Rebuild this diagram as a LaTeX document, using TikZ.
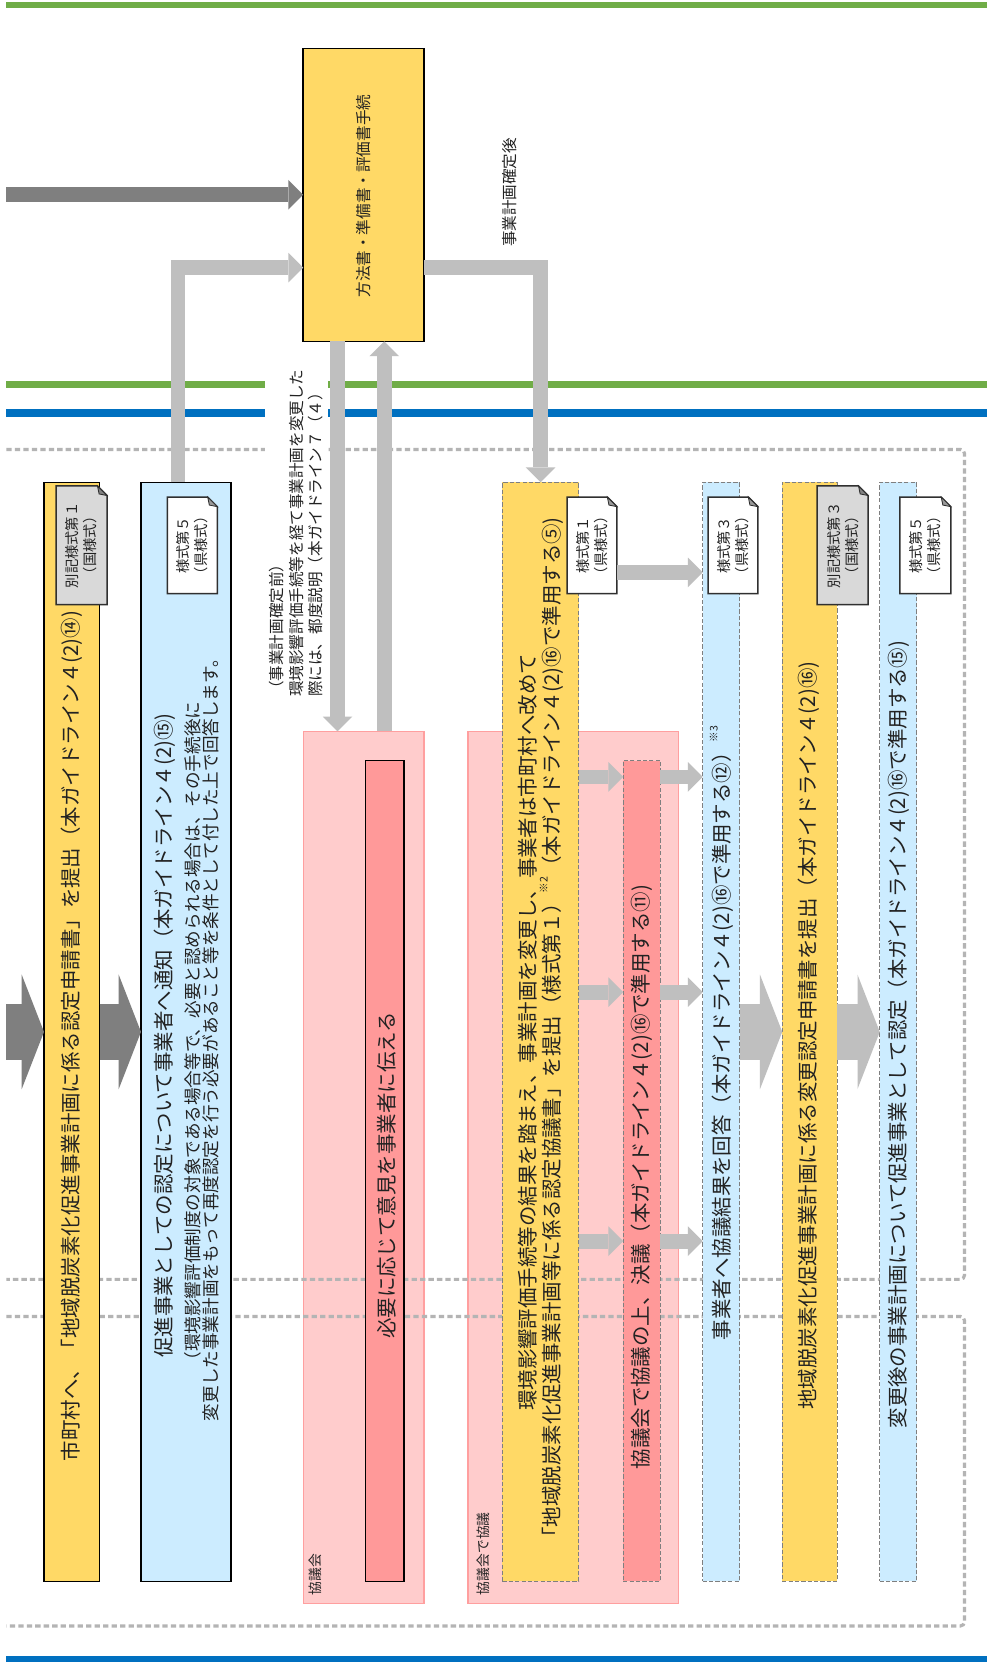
\documentclass[tikz,border=0pt]{standalone}
\usepackage{fontspec}
\newfontfamily\jp{Noto Sans CJK JP}
\usetikzlibrary{arrows.meta,calc}
\definecolor{cYel}{HTML}{FFD966}
\definecolor{cBlue}{HTML}{CCECFF}
\definecolor{cPink}{HTML}{FFCCCC}
\definecolor{cPinkLine}{HTML}{FF9F9F}
\definecolor{cRed}{HTML}{FF9999}
\definecolor{cGreen}{HTML}{70AD47}
\definecolor{cBlueLine}{HTML}{0070C0}
\definecolor{cDark}{HTML}{7F7F7F}
\definecolor{cLight}{HTML}{BFBFBF}
\definecolor{cDot}{HTML}{B4B4B4}
\definecolor{cDash}{HTML}{7F7F7F}
\definecolor{cTag}{HTML}{D9D9D9}
\definecolor{cTagLine}{HTML}{303030}
\definecolor{cText}{HTML}{222222}
\newcommand\notemark[1]{\raisebox{0.6em}{\fontsize{10}{10}\selectfont #1}}
\newcommand\notetag[6]{%
  \node[minimum width=#3, minimum height=#4, inner sep=0pt, outer sep=0pt] (#1) at (#2) {};
  \filldraw[tagline, fill=#5] (#1.south west) -- (#1.north west) -- ($(#1.north east)+(-9,0)$) -- ($(#1.north east)+(0,9)$) -- (#1.south east) -- cycle;
  \filldraw[tagline, line width=0.8pt, fill=#5!60!black] ($(#1.north east)+(-9,0)$) -- ($(#1.north east)+(-7.5,7.5)$) -- ($(#1.north east)+(0,9)$) -- cycle;
  \node[tagtxt] (#1t) at (#1.center) {#6};
}
\begin{document}
\begin{tikzpicture}[x=1pt,y=-1pt,
  solidbox/.style={draw=black, line width=1.3pt, inner sep=0pt, outer sep=0pt},
  dashbox/.style={draw=cDash, line width=1pt, dash pattern=on 4pt off 2pt, inner sep=0pt, outer sep=0pt},
  pinkbox/.style={fill=cPink, draw=cPinkLine, line width=1.2pt, inner sep=0pt, outer sep=0pt},
  maintxt/.style={rotate=90, inner sep=0pt, text=cText, font=\jp\fontsize{19.3}{23}\selectfont, align=center},
  smalltxt/.style={rotate=90, inner sep=0pt, text=cText, font=\jp\fontsize{14.7}{18.5}\selectfont, align=center},
  tagtxt/.style={rotate=90, inner sep=0pt, text=cText, font=\jp\fontsize{13.5}{17}\selectfont, align=center},
  areatxt/.style={rotate=90, inner sep=0pt, text=cText, font=\jp\fontsize{13}{15}\selectfont, anchor=west},
  tagline/.style={draw=cTagLine, line width=1.4pt, line join=miter},
  dotline/.style={draw=cDot, line width=3pt, dash pattern=on 5pt off 3pt},
  thinarr/.style={draw=#1, line width=14pt, -{Triangle[length=14pt,width=28pt,line width=0pt]}},
  bigarr/.style={draw=#1, line width=53pt, -{Triangle[length=21pt,width=108pt,line width=0pt]}}
]
\fill[white] (0,0) rectangle (931,1568);
\path[use as bounding box] (0,0) rectangle (931,1568);

% colour bands
\draw[cGreen, line width=6.3pt] (6,4.7) -- (931,4.7);
\draw[cGreen, line width=7pt] (6,362.5) -- (931,362.5);
\draw[cBlueLine, line width=7pt] (6,389.5) -- (931,389.5);
\draw[cBlueLine, line width=6pt] (6,1565) -- (931,1565);

% council areas
\node[pinkbox, minimum width=114, minimum height=823] (k1) at (343,1101.5) {};
\node[pinkbox, minimum width=198.4, minimum height=823] (k2) at (540.8,1101.5) {};
\node[areatxt] (k1l) at (297,1505) {協議会};
\node[areatxt] (k2l) at (456,1505) {協議会で協議};

% dotted frames
\draw[dotline, rounded corners=4pt] (6,424) -- (910,424) -- (910,1207) -- (6,1207);
\draw[dotline, rounded corners=4pt] (6,1242) -- (910,1242) -- (910,1534) -- (6,1534);

% boxes
\node[solidbox, fill=cYel, minimum width=114, minimum height=276.4] (hs) at (343,183.8) {};
\node[solidbox, fill=cYel, minimum width=52.5, minimum height=1037] (y1) at (67.75,973.5) {};
\node[solidbox, fill=cBlue, minimum width=85, minimum height=1037] (b2) at (175.5,973.5) {};
\node[solidbox, fill=cRed, minimum width=36, minimum height=774.5] (k1in) at (363,1104.75) {};
\node[dashbox, fill=cYel, minimum width=72, minimum height=1037] (y3) at (510,973.5) {};
\node[dashbox, fill=cRed, minimum width=35, minimum height=774.5] (r3) at (605.5,1104.75) {};
\node[dashbox, fill=cBlue, minimum width=35, minimum height=1037] (b3) at (680.5,973.5) {};
\node[dashbox, fill=cYel, minimum width=52, minimum height=1037] (y4) at (764,973.5) {};
\node[dashbox, fill=cBlue, minimum width=35, minimum height=1037] (b5) at (847.5,973.5) {};

% texts
\node[smalltxt] (hst) at (343,185) {方法書・準備書・評価書手続};
\node[smalltxt] (lab1) at (481,181.5) {事業計画確定後};
\node[maintxt] (y1t) at (68,977.5) {市町村へ、「地域脱炭素化促進事業計画に係る認定申請書」を提出（本ガイドライン４(2)⑭)};
\node[maintxt, font=\jp\fontsize{16.6}{17}\selectfont] (b2t) at (176,977) {{\fontsize{19.3}{23}\selectfont 促進事業としての認定について事業者へ通知（本ガイドライン４(2)⑮)}\\[7.5pt]（環境影響評価制度の対象である場合等で、必要と認められる場合は、その手続後に\\変更した事業計画をもって再度認定を行う必要があること等を条件として付した上で回答します。};
\node[maintxt] (k1t) at (365,1109) {必要に応じて意見を事業者に伝える};
\node[maintxt] (y3t) at (510.5,974) {環境影響評価手続等の結果を踏まえ、事業計画を変更し、事業者は市町村へ改めて\\「地域脱炭素化促進事業計画等に係る認定協議書」を提出（様式第１）\notemark{※2}（本ガイドライン４(2)⑯で準用する⑤)};
\node[maintxt] (r3t) at (605,1110.5) {協議会で協議の上、決議（本ガイドライン４(2)⑯で準用する⑪)};
\node[maintxt] (b3t) at (681,974.5) {事業者へ協議結果を回答（本ガイドライン４(2)⑯で準用する⑫）\notemark{※3}};
\node[maintxt] (y4t) at (763,977) {地域脱炭素化促進事業計画に係る変更認定申請書を提出（本ガイドライン４(2)⑯)};
\node[maintxt] (b5t) at (847.5,976) {変更後の事業計画について促進事業として認定（本ガイドライン４(2)⑯で準用する⑮)};

% form tags
\notetag{t1}{77,514.5}{48}{112}{cTag}{別記様式第１\\（国様式）}
\notetag{t2}{181.5,514.5}{47}{91}{white}{様式第５\\（県様式）}
\notetag{t3}{558.5,514.5}{47}{91}{white}{様式第１\\（県様式）}
\notetag{t4}{691.5,514.5}{47}{91}{white}{様式第３\\（県様式）}
\notetag{t5}{795,514.5}{48}{112}{cTag}{別記様式第３\\（国様式）}
\notetag{t6}{873,514.5}{48}{91}{white}{様式第５\\（県様式）}

% connectors
\coordinate (s0) at (6,183.8);
\draw[thinarr=cDark] (s0) -- (hs.west);
\draw[thinarr=cLight] ($(b2.north)+(-7.5,0)$) |- ($(hs.west)+(0,68.7)$);
\draw[thinarr=cLight] ($(hs.east)+(0,68.7)$) -| (y3.north);
\draw[thinarr=cLight] ($(hs.south)+(-24.5,0)$) -- ($(k1.north)+(-24.5,0)$);
\draw[thinarr=cLight] ($(k1.north)+(19.5,0)$) -- ($(hs.south)+(19.5,0)$);

\coordinate (s1) at (6,973.5);
\draw[bigarr=cDark] (s1) -- (y1.west);
\draw[bigarr=cDark] (y1.east) -- (b2.west);
\draw[bigarr=cLight] (b3.east) -- (y4.west);
\draw[bigarr=cLight] (y4.east) -- (b5.west);

\coordinate (h0) at (0,540);
\draw[thinarr=cLight] (t3.east |- h0) -- (b3.west |- h0);
\foreach \i/\yy in {1/733,2/936,3/1171} {
  \coordinate (h\i) at (0,\yy);
  \draw[thinarr=cLight] (y3.east |- h\i) -- (r3.west |- h\i);
  \draw[thinarr=cLight] (r3.east |- h\i) -- (b3.west |- h\i);
}

% note on changes before the plan is fixed
\node[smalltxt, align=left, fill=white, inner xsep=10pt, inner ysep=4pt] (lab2) at (279.5,503) {（事業計画確定前）\\環境影響評価手続等を経て事業計画を変更した\\際には、都度説明（本ガイドライン７（４）};
\end{tikzpicture}
\end{document}
